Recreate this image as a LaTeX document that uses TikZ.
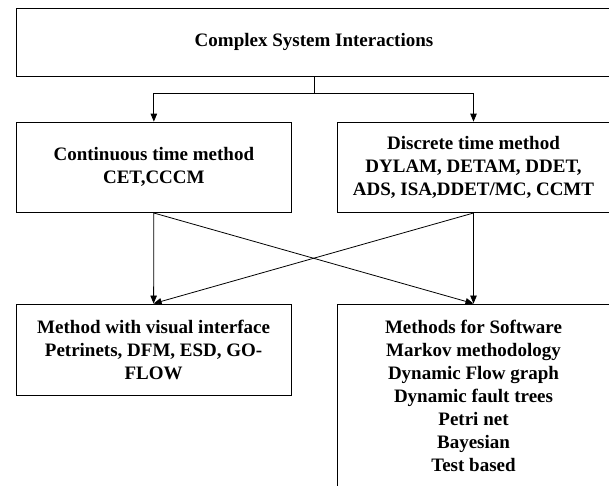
\documentclass[tikz,border=0pt]{standalone}
\usepackage{fontspec}
\setmainfont{Liberation Serif}
\usetikzlibrary{arrows.meta}
\tikzset{
  box/.style={draw=black, line width=0.9pt, align=center, inner sep=0pt,
    font=\bfseries\fontsize{19}{23}\selectfont},
  conn/.style={draw=black, line width=0.8pt, -{Triangle[length=8pt,width=6.5pt]}}
}
\begin{document}
\begin{tikzpicture}[x=1pt,y=-1pt]
\useasboundingbox (0,0) rectangle (609,485);
\fill[white] (0,0) rectangle (609,485);
\clip (0,0) rectangle (609,485);
\node[box, minimum width=596pt, minimum height=68pt] (top) at (314,42) {Complex System Interactions};
\node[box, minimum width=275.7pt, minimum height=90.5pt] (cont) at (153.85,167.3) {Continuous time method\\CET,CCCM};
\node[box, minimum width=273pt, minimum height=90.5pt] (disc) at (473.5,167.3) {Discrete time method\\DYLAM, DETAM, DDET,\\ADS, ISA,DDET/MC, CCMT};
\node[box, minimum width=275.3pt, minimum height=91pt] (vis) at (153.6,349.5) {Method with visual interface\\Petrinets, DFM, ESD, GO-\\FLOW};
\node[box, minimum width=273pt, minimum height=183pt] (soft) at (473.5,395.5) {Methods for Software\\Markov methodology\\Dynamic Flow graph\\Dynamic fault trees\\Petri net\\Bayesian\\Test based};
\coordinate (split) at ([yshift=-17pt]top.south);
\draw[line width=0.8pt] (top.south) -- (split);
\draw[conn] (split) -| (cont.north);
\draw[conn] (split) -| (disc.north);
\draw[conn] (cont.south) -- (vis.north);
\draw[conn] (disc.south) -- (soft.north);
\draw[conn] (cont.south) -- (soft.north);
\draw[conn] (disc.south) -- (vis.north);
\end{tikzpicture}
\end{document}
